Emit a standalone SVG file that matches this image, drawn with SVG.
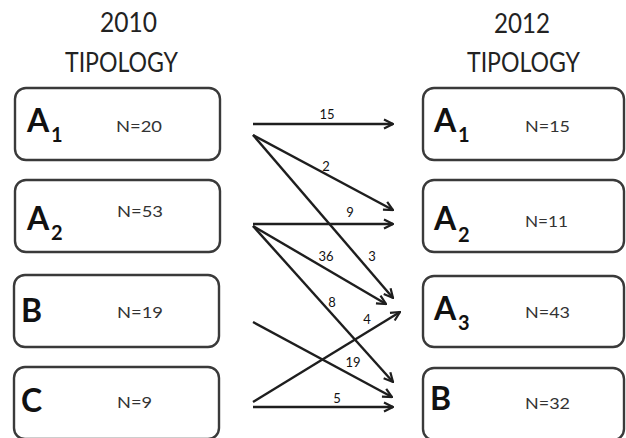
<svg xmlns="http://www.w3.org/2000/svg" width="626" height="438" viewBox="0 0 626 438">
<style>
.box{fill:#fff;stroke:#3a3a3a;stroke-width:2.4}
.hdr{font-family:Lato,"Open Sans","Liberation Sans",sans-serif;font-size:26px;fill:#222;text-anchor:middle}
.big{font-family:Lato,"Open Sans","Liberation Sans",sans-serif;font-size:32px;font-weight:bold;fill:#111}
.sub{font-family:Lato,"Open Sans","Liberation Sans",sans-serif;font-size:20px;font-weight:bold;fill:#111}
.n{font-family:Lato,"Open Sans","Liberation Sans",sans-serif;font-size:16px;fill:#333}
.lbl{font-family:Lato,"Open Sans","Liberation Sans",sans-serif;font-size:13px;fill:#111;text-anchor:middle}
.edge{stroke:#1e1e1e;stroke-width:2.4;fill:none;marker-end:url(#arr)}
</style>
<defs>
<marker id="arr" markerUnits="userSpaceOnUse" viewBox="0 0 12 12" markerWidth="12" markerHeight="12" refX="11" refY="6" orient="auto">
<path d="M2,1.5 L11,6 L2,10.5" fill="none" stroke="#1e1e1e" stroke-width="2.2"/>
</marker>
</defs>
<g id="headers">
<text class="hdr" x="128.5" y="32" textLength="57" lengthAdjust="spacingAndGlyphs">2010</text>
<text class="hdr" x="121.5" y="72" textLength="113" lengthAdjust="spacingAndGlyphs">TIPOLOGY</text>
<text class="hdr" x="522" y="33" textLength="56" lengthAdjust="spacingAndGlyphs">2012</text>
<text class="hdr" x="523.5" y="72" textLength="113" lengthAdjust="spacingAndGlyphs">TIPOLOGY</text>
</g>
<g id="L_A1">
<rect class="box" x="15" y="88" width="205" height="72" rx="11"/>
<text class="big" x="27" y="132">A</text><text class="sub" x="51" y="142">1</text>
<text class="n" x="116" y="132" textLength="46" lengthAdjust="spacingAndGlyphs">N=20</text>
</g>
<g id="L_A2">
<rect class="box" x="15" y="180" width="205" height="72" rx="11"/>
<text class="big" x="27" y="230">A</text><text class="sub" x="51" y="240">2</text>
<text class="n" x="117" y="217" textLength="46" lengthAdjust="spacingAndGlyphs">N=53</text>
</g>
<g id="L_B">
<rect class="box" x="14" y="275" width="205" height="72" rx="11"/>
<text class="big" x="21" y="322">B</text>
<text class="n" x="117" y="318" textLength="46" lengthAdjust="spacingAndGlyphs">N=19</text>
</g>
<g id="L_C">
<rect class="box" x="14" y="367" width="205" height="72" rx="11"/>
<text class="big" x="21" y="412">C</text>
<text class="n" x="117" y="408" textLength="35" lengthAdjust="spacingAndGlyphs">N=9</text>
</g>
<g id="R_A1">
<rect class="box" x="423" y="88" width="201" height="72" rx="11"/>
<text class="big" x="434" y="132">A</text><text class="sub" x="458" y="142">1</text>
<text class="n" x="525" y="132" textLength="45" lengthAdjust="spacingAndGlyphs">N=15</text>
</g>
<g id="R_A2">
<rect class="box" x="423" y="180" width="201" height="72" rx="11"/>
<text class="big" x="434" y="230">A</text><text class="sub" x="458" y="242">2</text>
<text class="n" x="525" y="227" textLength="43" lengthAdjust="spacingAndGlyphs">N=11</text>
</g>
<g id="R_A3">
<rect class="box" x="423" y="276" width="201" height="71" rx="11"/>
<text class="big" x="434" y="320">A</text><text class="sub" x="458" y="330">3</text>
<text class="n" x="525" y="318" textLength="45" lengthAdjust="spacingAndGlyphs">N=43</text>
</g>
<g id="R_B">
<rect class="box" x="423" y="368" width="201" height="72" rx="11"/>
<text class="big" x="430" y="410">B</text>
<text class="n" x="525" y="409" textLength="45" lengthAdjust="spacingAndGlyphs">N=32</text>
</g>
<g id="connectors">
<line class="edge" x1="253" y1="124" x2="393" y2="124"/>
<line class="edge" x1="253" y1="135" x2="393" y2="210"/>
<line class="edge" x1="253" y1="135" x2="393" y2="298"/>
<line class="edge" x1="253" y1="224" x2="393" y2="224"/>
<line class="edge" x1="253" y1="226" x2="386" y2="304"/>
<line class="edge" x1="253" y1="226" x2="393" y2="382"/>
<line class="edge" x1="253" y1="322" x2="392" y2="397"/>
<line class="edge" x1="253" y1="402" x2="400" y2="312"/>
<line class="edge" x1="253" y1="407" x2="393" y2="407"/>
<text class="lbl" x="327" y="119">15</text>
<text class="lbl" x="326" y="171">2</text>
<text class="lbl" x="350" y="217">9</text>
<text class="lbl" x="326" y="261">36</text>
<text class="lbl" x="372" y="261">3</text>
<text class="lbl" x="332" y="307">8</text>
<text class="lbl" x="367" y="324">4</text>
<text class="lbl" x="353" y="367">19</text>
<text class="lbl" x="337" y="403">5</text>
</g>
</svg>
